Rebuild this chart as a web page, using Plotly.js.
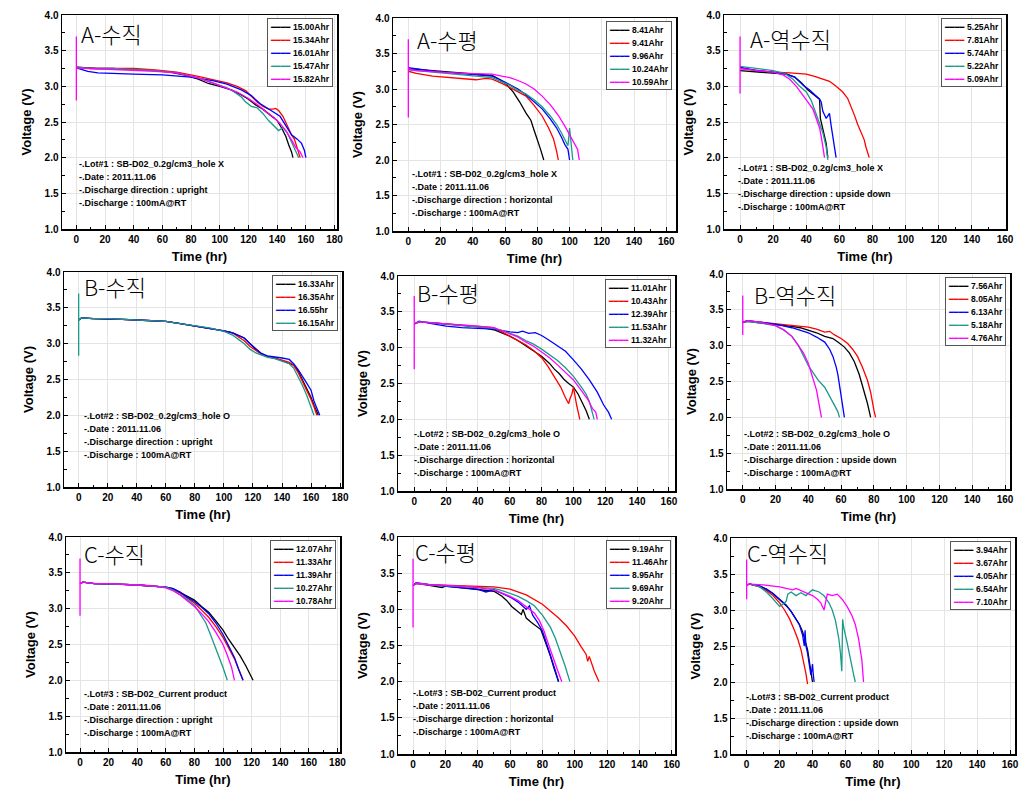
<!DOCTYPE html>
<html><head><meta charset="utf-8">
<script src="https://cdn.plot.ly/plotly-3.0.1.min.js"></script>
<style>html,body{margin:0;padding:0;background:#fff}#chart{width:1032px;height:796px}</style>
</head><body><div id="chart"></div><script>
// ---------- DATA ----------
const panelTitles = ['A-수직','A-수평','A-역수직','B-수직','B-수평','B-역수직','C-수직','C-수평','C-역수직'];
const lotTexts = ['-.Lot#1 : SB-D02_0.2g/cm3_hole X','-.Lot#2 : SB-D02_0.2g/cm3_hole O','-.Lot#3 : SB-D02_Current product'];
const directionTexts = ['upright','horizontal','upside down'];
const dateText = '2011.11.06';
const dischargeText = '100mA@RT';
const yTicks = [1.0,1.5,2.0,2.5,3.0,3.5,4.0];

// A - upright
const A_up_labels = ['15.00Ahr','15.34Ahr','16.01Ahr','15.47Ahr','15.82Ahr'];
const A_up_t = [
 [0,5,15,25,40,55,65,75,85,92,100,108,115,120,125,130,135,140,143,146,148,150,151],
 [0,10,25,40,55,70,85,95,105,112,118,122,126,130,134,137,139,141,144,147,150,152,154,156],
 [0,8,15,25,40,60,80,95,105,115,122,128,133,138,142,146,150,154,157,159,160],
 [0,10,25,40,55,70,85,95,105,110,115,118,122,126,130,134,138,141,144,147,150,153,155],
 [0,0,0,10,25,40,55,70,85,95,105,112,120,127,133,138,142,146,150,153,156,158]];
const A_up_v = [
 [3.27,3.26,3.25,3.25,3.24,3.22,3.20,3.16,3.10,3.04,3.00,2.95,2.88,2.82,2.74,2.68,2.60,2.52,2.42,2.30,2.18,2.08,2.0],
 [3.27,3.25,3.25,3.25,3.23,3.20,3.14,3.10,3.05,3.00,2.94,2.86,2.78,2.72,2.68,2.68,2.69,2.66,2.58,2.45,2.32,2.26,2.12,2.0],
 [3.26,3.21,3.19,3.18,3.17,3.16,3.13,3.08,3.03,2.95,2.87,2.76,2.70,2.64,2.58,2.45,2.32,2.26,2.20,2.10,2.0],
 [3.27,3.25,3.25,3.24,3.22,3.19,3.12,3.05,2.98,2.92,2.85,2.78,2.72,2.70,2.62,2.52,2.44,2.38,2.42,2.35,2.22,2.08,2.0],
 [2.8,3.7,3.26,3.25,3.24,3.23,3.21,3.19,3.12,3.05,2.98,2.92,2.83,2.73,2.63,2.56,2.48,2.38,2.25,2.14,2.08,2.0]];

// A - horizontal
const A_hz_labels = ['8.41Ahr','9.41Ahr','9.96Ahr','10.24Ahr','10.59Ahr'];
const A_hz_t = [
 [0,5,15,25,35,45,52,57,61,65,69,73,76,78,80,82,84],
 [0,5,15,25,35,42,48,52,58,63,68,73,78,83,87,90,92,93],
 [0,5,15,25,35,45,52,58,63,68,73,78,83,88,92,95,97,99,100],
 [0,5,15,25,35,45,52,58,63,68,73,78,83,88,92,95,97,99,100,101,102],
 [0,0,0,5,15,25,35,45,52,58,63,68,73,78,83,88,93,97,100,103,105,106]];
const A_hz_v = [
 [3.28,3.28,3.26,3.24,3.22,3.21,3.19,3.13,3.06,2.96,2.82,2.66,2.56,2.42,2.30,2.15,2.0],
 [3.25,3.22,3.18,3.16,3.14,3.13,3.15,3.14,3.08,3.02,2.96,2.90,2.77,2.62,2.45,2.30,2.12,2.0],
 [3.30,3.28,3.25,3.23,3.21,3.20,3.18,3.12,3.06,3.00,2.92,2.82,2.72,2.58,2.45,2.32,2.22,2.15,2.0],
 [3.27,3.26,3.24,3.22,3.20,3.18,3.16,3.10,3.05,2.98,2.93,2.85,2.75,2.62,2.50,2.38,2.30,2.20,2.45,2.20,2.0],
 [2.6,3.7,3.28,3.26,3.24,3.23,3.22,3.22,3.21,3.18,3.16,3.12,3.07,3.00,2.90,2.78,2.63,2.48,2.36,2.25,2.15,2.0]];

// A - upside down
const A_dn_labels = ['5.25Ahr','7.81Ahr','5.74Ahr','5.22Ahr','5.09Ahr'];
const A_dn_t = [
 [0,10,20,28,33,37,41,45,47,48,48.5,50,51,52,53],
 [0,10,20,30,40,45,50,54,58,62,65,67,69,71,73,75,76,77,78],
 [0,10,20,28,33,38,42,46,48,49,50,52,53,54,55,56,57,58],
 [0,10,20,27,32,36,40,43,46,48,50,51,52,53],
 [0,0,0,10,20,26,30,34,38,41,44,46,48,49,50,51]];
const A_dn_v = [
 [3.22,3.20,3.19,3.17,3.13,3.05,2.95,2.88,2.85,2.82,2.55,2.40,2.30,2.20,2.0],
 [3.25,3.22,3.20,3.19,3.17,3.14,3.10,3.07,3.00,2.92,2.83,2.72,2.60,2.47,2.35,2.25,2.15,2.08,2.0],
 [3.27,3.22,3.20,3.17,3.13,3.02,2.95,2.87,2.82,2.78,2.65,2.55,2.58,2.62,2.45,2.30,2.15,2.0],
 [3.28,3.25,3.22,3.18,3.10,3.00,2.92,2.80,2.62,2.48,2.35,2.25,2.15,1.97],
 [2.9,3.7,3.25,3.22,3.20,3.16,3.10,3.00,2.88,2.78,2.68,2.55,2.42,2.30,2.15,2.0]];

// B - upright
const B_up_labels = ['16.33Ahr','16.35Ahr','16.55hr','16.15Ahr'];
const B_up_t = [
 [0,2,10,20,30,40,50,60,70,80,90,100,106,110,114,118,122,126,130,135,140,145,148,151,154,157,160,162,164,165],
 [0,2,10,20,30,40,50,60,70,80,90,100,106,110,114,118,122,126,130,135,140,145,148,151,154,157,160,162,163,164],
 [0,2,10,20,30,40,50,60,70,80,90,100,106,110,114,118,122,126,130,135,140,145,148,151,154,157,160,162,164,166],
 [0,0,0,2,10,20,30,40,50,60,70,80,90,100,106,110,114,118,122,126,130,135,140,145,148,151,154,157,160,162]];
const B_up_v = [
 [3.33,3.36,3.35,3.35,3.34,3.33,3.32,3.31,3.28,3.25,3.22,3.18,3.15,3.12,3.08,3.00,2.92,2.86,2.82,2.80,2.76,2.73,2.70,2.62,2.50,2.38,2.25,2.14,2.05,2.0],
 [3.33,3.36,3.35,3.35,3.34,3.33,3.32,3.31,3.28,3.25,3.22,3.18,3.15,3.10,3.04,2.96,2.90,2.85,2.82,2.80,2.77,2.74,2.70,2.60,2.48,2.35,2.22,2.12,2.06,2.0],
 [3.33,3.36,3.35,3.35,3.34,3.33,3.32,3.31,3.28,3.25,3.22,3.18,3.15,3.12,3.08,3.00,2.93,2.86,2.83,2.82,2.80,2.78,2.72,2.64,2.55,2.45,2.35,2.20,2.10,2.0],
 [2.83,3.7,3.33,3.36,3.35,3.35,3.34,3.33,3.32,3.31,3.28,3.25,3.22,3.17,3.12,3.06,3.00,2.92,2.87,2.84,2.81,2.79,2.76,2.72,2.66,2.55,2.42,2.28,2.10,2.0]];

// B - horizontal
const B_hz_labels = ['11.01Ahr','10.43Ahr','12.39Ahr','11.53Ahr','11.32Ahr'];
const B_hz_t = [
 [0,3,10,20,30,40,50,55,60,65,70,75,80,85,88,91,94,97,100,103,106,108,110],
 [0,3,10,20,30,40,50,55,60,65,70,75,80,84,88,92,95,97,98,99,100,101,102,103,104],
 [0,3,10,20,30,40,50,60,65,68,72,76,80,85,90,95,100,105,110,115,119,122,124],
 [0,3,10,20,30,40,50,55,60,65,70,75,80,85,90,95,100,105,108,110,112,113],
 [0,0,0,3,10,20,30,40,50,55,60,65,70,75,80,85,90,95,100,105,109,112,114,115]];
const B_hz_v = [
 [3.33,3.36,3.35,3.33,3.31,3.29,3.25,3.21,3.16,3.10,3.03,2.96,2.88,2.78,2.70,2.64,2.56,2.50,2.45,2.35,2.22,2.12,2.0],
 [3.33,3.36,3.35,3.33,3.32,3.30,3.28,3.22,3.16,3.10,3.04,2.96,2.86,2.74,2.60,2.45,2.30,2.22,2.30,2.35,2.45,2.30,2.20,2.10,2.0],
 [3.33,3.37,3.34,3.30,3.28,3.27,3.26,3.22,3.21,3.23,3.20,3.21,3.17,3.10,3.03,2.95,2.83,2.70,2.55,2.38,2.20,2.10,2.0],
 [3.33,3.36,3.35,3.33,3.32,3.30,3.27,3.24,3.20,3.16,3.10,3.05,2.98,2.90,2.82,2.72,2.60,2.45,2.35,2.25,2.10,2.0],
 [2.7,3.72,3.33,3.36,3.35,3.33,3.32,3.30,3.28,3.24,3.20,3.15,3.08,3.02,2.94,2.86,2.76,2.66,2.55,2.40,2.28,2.15,2.10,2.0]];

// B - upside down
const B_dn_labels = ['7.56Ahr','8.05Ahr','6.13Ahr','5.18Ahr','4.76Ahr'];
const B_dn_t = [
 [0,3,10,20,30,35,40,45,50,55,58,62,65,68,71,73,75,76,77,78],
 [0,3,10,20,30,40,45,50,53,56,60,64,67,70,73,76,78,79,80,81],
 [0,3,10,20,30,35,40,45,50,53,55,57,58,59,60,61,62],
 [0,3,10,20,25,30,34,37,40,43,46,50,53,56,58,59],
 [0,0,0,3,10,20,25,30,34,37,40,42,44,45,46,47,48]];
const B_dn_v = [
 [3.32,3.34,3.32,3.30,3.27,3.25,3.22,3.18,3.13,3.10,3.05,2.98,2.90,2.78,2.60,2.45,2.30,2.20,2.10,2.0],
 [3.33,3.35,3.33,3.31,3.29,3.26,3.23,3.19,3.20,3.15,3.10,3.03,2.95,2.85,2.70,2.52,2.35,2.20,2.10,2.0],
 [3.33,3.35,3.33,3.30,3.25,3.22,3.18,3.12,3.05,2.95,2.85,2.70,2.60,2.45,2.30,2.15,2.0],
 [3.32,3.34,3.32,3.28,3.22,3.13,3.00,2.85,2.72,2.62,2.52,2.42,2.30,2.18,2.08,2.0],
 [3.15,3.7,3.32,3.35,3.33,3.28,3.22,3.13,3.00,2.90,2.75,2.60,2.45,2.38,2.25,2.12,2.0]];

// C - upright
const C_up_labels = ['12.07Ahr','11.33Ahr','11.39Ahr','10.27Ahr','10.78Ahr'];
const C_up_t = [
 [0,2,10,20,30,40,50,60,65,70,75,80,85,90,95,100,104,108,112,116,119,121],
 [0,2,10,20,30,40,50,60,65,70,75,80,85,90,95,100,104,108,111,114],
 [0,2,10,20,30,40,50,60,65,70,75,80,85,90,95,100,104,108,111,114],
 [0,2,10,20,30,40,50,60,65,70,75,80,84,88,91,94,97,100,103],
 [0,0,0,2,10,20,30,40,50,60,65,70,75,80,85,90,95,100,103,106,108]];
const C_up_v = [
 [3.35,3.37,3.35,3.35,3.34,3.33,3.32,3.30,3.28,3.23,3.17,3.12,3.03,2.95,2.83,2.70,2.57,2.45,2.34,2.20,2.08,2.0],
 [3.35,3.37,3.35,3.35,3.34,3.33,3.32,3.30,3.27,3.22,3.15,3.08,2.98,2.88,2.75,2.60,2.45,2.30,2.15,2.0],
 [3.35,3.37,3.35,3.35,3.34,3.33,3.32,3.30,3.28,3.23,3.16,3.10,3.02,2.93,2.80,2.64,2.48,2.32,2.15,2.0],
 [3.35,3.37,3.35,3.35,3.34,3.33,3.32,3.30,3.26,3.20,3.13,3.05,2.92,2.80,2.65,2.50,2.35,2.18,2.0],
 [2.9,3.7,3.35,3.37,3.35,3.35,3.34,3.33,3.32,3.29,3.25,3.19,3.11,3.03,2.93,2.82,2.67,2.50,2.35,2.18,2.0]];

// C - horizontal
const C_hz_labels = ['9.19Ahr','11.46Ahr','8.95Ahr','9.69Ahr','9.20Ahr'];
const C_hz_t = [
 [0,2,10,18,20,25,30,40,50,55,58,61,63,65,67,68,70,73,76,79,81,83,85,87,89,90],
 [0,2,10,20,30,40,50,60,70,80,85,90,95,100,104,107,108,109,112,115],
 [0,2,10,20,30,40,45,50,55,60,65,70,72,74,77,80,83,86,88,90],
 [0,2,10,20,30,40,50,55,60,65,70,75,80,85,88,91,94,97],
 [0,0,0,2,10,20,30,40,50,55,60,65,70,75,78,81,84,87,90,92]];
const C_hz_v = [
 [3.33,3.36,3.33,3.30,3.32,3.31,3.30,3.28,3.25,3.18,3.12,3.04,3.00,2.96,2.93,3.00,2.88,2.82,2.77,2.72,2.60,2.48,2.35,2.20,2.08,2.0],
 [3.33,3.36,3.34,3.33,3.33,3.32,3.31,3.28,3.20,3.07,2.98,2.88,2.77,2.63,2.48,2.38,2.28,2.35,2.15,2.0],
 [3.33,3.37,3.34,3.32,3.30,3.28,3.24,3.27,3.22,3.17,3.10,3.00,3.05,2.92,2.82,2.70,2.50,2.30,2.15,2.0],
 [3.33,3.36,3.34,3.33,3.32,3.31,3.29,3.26,3.22,3.18,3.12,3.05,2.92,2.75,2.60,2.42,2.22,2.0],
 [2.75,3.7,3.33,3.36,3.34,3.33,3.32,3.30,3.27,3.23,3.18,3.12,3.04,2.95,2.85,2.70,2.50,2.30,2.12,2.0]];

// C - upside down
const C_dn_labels = ['3.94Ahr','3.67Ahr','4.05Ahr','6.54Ahr','7.10Ahr'];
const C_dn_t = [
 [0,2,8,12,16,20,24,27,30,32,34,36,37,38,39,40],
 [0,2,8,12,16,20,23,26,29,31,33,35,36,37],
 [0,2,8,12,16,20,24,27,30,32,34,35,35.5,36,37,38,39,39.5,40,40.5,41],
 [0,2,8,12,15,18,20,22,24,25,27,30,33,36,40,44,47,50,52,54,56,57,57.8,58.3,59,61,63,65,66],
 [0,0,0,2,10,20,28,30,33,36,40,43,45,46,47,49,52,55,58,61,64,66,68,69,70,71]];
const C_dn_v = [
 [3.35,3.36,3.33,3.29,3.23,3.15,3.06,2.98,2.88,2.80,2.70,2.55,2.45,2.30,2.15,2.0],
 [3.35,3.36,3.32,3.27,3.20,3.10,3.00,2.88,2.72,2.60,2.45,2.25,2.12,1.97],
 [3.35,3.36,3.33,3.29,3.23,3.15,3.07,2.98,2.88,2.80,2.65,2.50,2.72,2.50,2.40,2.25,2.10,2.15,2.25,2.10,2.0],
 [3.35,3.36,3.32,3.25,3.18,3.10,3.05,3.08,3.12,3.22,3.25,3.20,3.24,3.20,3.28,3.25,3.20,3.10,3.00,2.85,2.60,2.40,2.15,2.87,2.75,2.55,2.30,2.10,2.0],
 [3.15,3.7,3.35,3.36,3.35,3.32,3.28,3.30,3.27,3.25,3.20,3.15,3.10,3.05,3.00,3.22,3.20,3.22,3.15,3.05,2.92,2.80,2.60,2.45,2.30,2.0]];

// ---------- STYLE / LAYOUT ----------
const seriesColors = ['#000000','#FF0000','#0000FF','#1A9A8A','#FF00FF'];
const panelLabels = [A_up_labels,A_hz_labels,A_dn_labels,B_up_labels,B_hz_labels,B_dn_labels,C_up_labels,C_hz_labels,C_dn_labels];
const panelT = [A_up_t,A_hz_t,A_dn_t,B_up_t,B_hz_t,B_dn_t,C_up_t,C_hz_t,C_dn_t];
const panelV = [A_up_v,A_hz_v,A_dn_v,B_up_v,B_hz_v,B_dn_v,C_up_v,C_hz_v,C_dn_v];

const W = 1032, H = 796;
const boxes = [[62,15,337,229],[393,18,676,231],[724,15,1006,229],
               [64,272,342,487],[398,276,675,491],[727,274,1010,489],
               [66,537,340,752],[398,537,675,754],[731,538,1015,754]];
const xRanges = [[-10,181.7],[-9.5,166],[-9.7,160.6],[-10.1,181.3],[-10.2,163.8],[-9.6,163],[-9.8,181.8],[-9.3,162],[-9.5,163]];
const titlePos = [[1.9,3.75],[4,3.71],[4.8,3.68],[2.3,3.80],[0.4,3.77],[5.7,3.72],[1.4,3.78],[0,3.80],[-1,3.81]];
const infoPos = [[1.2,1.91],[1.5,1.80],[-2,1.85],[2.8,1.98],[-0.6,1.79],[0.4,1.76],[1.9,1.80],[-0.8,1.83],[-1,1.78]];

const FONT = 'Liberation Sans, Arial, sans-serif';
const traces = [];
const layout = {width: W, height: H, margin: {l:0,r:0,t:0,b:0}, paper_bgcolor:'#fff', plot_bgcolor:'#fff',
  showlegend:false, annotations: [], font:{family:FONT, color:'#000'}};

for (let p = 0; p < 9; p++) {
  const n = p === 0 ? '' : String(p+1);
  const [L,T,R,B] = boxes[p];
  const xa = 'x'+n, ya = 'y'+n;
  layout['xaxis'+n] = {domain:[L/W, R/W], range:xRanges[p], anchor:ya, dtick:20, tick0:0,
    showgrid:true, gridcolor:'#e4e4e4', gridwidth:1, zeroline:false,
    showline:true, linecolor:'#000', linewidth:1.5, mirror:true,
    ticks:'inside', ticklen:4, tickwidth:1, tickcolor:'#000',
    minor:{ticks:'inside', ticklen:2.5, dtick:10, tickcolor:'#000', showgrid:false},
    tickfont:{family:FONT, size:10, weight:'bold', color:'#000'},
    title:{text:'Time (hr)', font:{family:FONT, size:13, weight:'bold', color:'#000'}, standoff:8}};
  layout['yaxis'+n] = {domain:[1-B/H, 1-T/H], range:[1,4], anchor:xa, tickvals:yTicks, tickformat:'.1f',
    showgrid:true, gridcolor:'#e4e4e4', gridwidth:1, zeroline:false,
    showline:true, linecolor:'#000', linewidth:1.5, mirror:true,
    ticks:'inside', ticklen:4, tickwidth:1, tickcolor:'#000',
    minor:{ticks:'inside', ticklen:2.5, dtick:0.25, tickcolor:'#000', showgrid:false},
    tickfont:{family:FONT, size:10, weight:'bold', color:'#000'},
    title:{text:'Voltage (V)', font:{family:FONT, size:13, weight:'bold', color:'#000'}, standoff:10}};

  const labs = panelLabels[p];
  labs.forEach((lab, i) => {
    traces.push({type:'scatter', mode:'lines', x:panelT[p][i], y:panelV[p][i], name:lab,
      xaxis:xa, yaxis:ya, line:{color:seriesColors[i], width:1.3}, hoverinfo:'skip'});
  });

  // panel title
  layout.annotations.push({xref:xa, yref:ya, x:titlePos[p][0], y:titlePos[p][1], xanchor:'left', yanchor:'middle',
    text:panelTitles[p], showarrow:false, font:{family:'Noto Sans CJK KR', size:22, weight:300, color:'#000'}});

  // info block
  const row = Math.floor(p/3), col = p % 3;
  const info = [lotTexts[row], '-.Date : '+dateText, '-.Discharge direction : '+directionTexts[col], '-.Discharge : '+dischargeText]
    .map(s => '<span style="font-size:9px">'+s+'</span>').join('<br>');
  layout.annotations.push({xref:xa, yref:ya, x:infoPos[p][0], y:infoPos[p][1]+0.09, xanchor:'left', yanchor:'top',
    align:'left', text:info, showarrow:false, borderpad:0, font:{family:FONT, size:10, weight:'bold', color:'#000'}});

  // legend box (built from series labels and colours)
  const legText = labs.map((lab, i) =>
    '<span style="color:'+seriesColors[i]+';font-family:DejaVu Sans;font-size:8px">━━━━</span> <span style="font-size:8.5px">'+lab+'</span>').join('<br>');
  layout.annotations.push({xref:xa+' domain', yref:ya+' domain', x:0.985, y:0.985, xanchor:'right', yanchor:'top',
    align:'left', text:legText, showarrow:false, bgcolor:'#fff', bordercolor:'#555', borderwidth:1, borderpad:2,
    font:{family:FONT, size:10, weight:'bold', color:'#000'}});
}

Plotly.newPlot('chart', traces, layout, {staticPlot:true});
</script></body></html>
